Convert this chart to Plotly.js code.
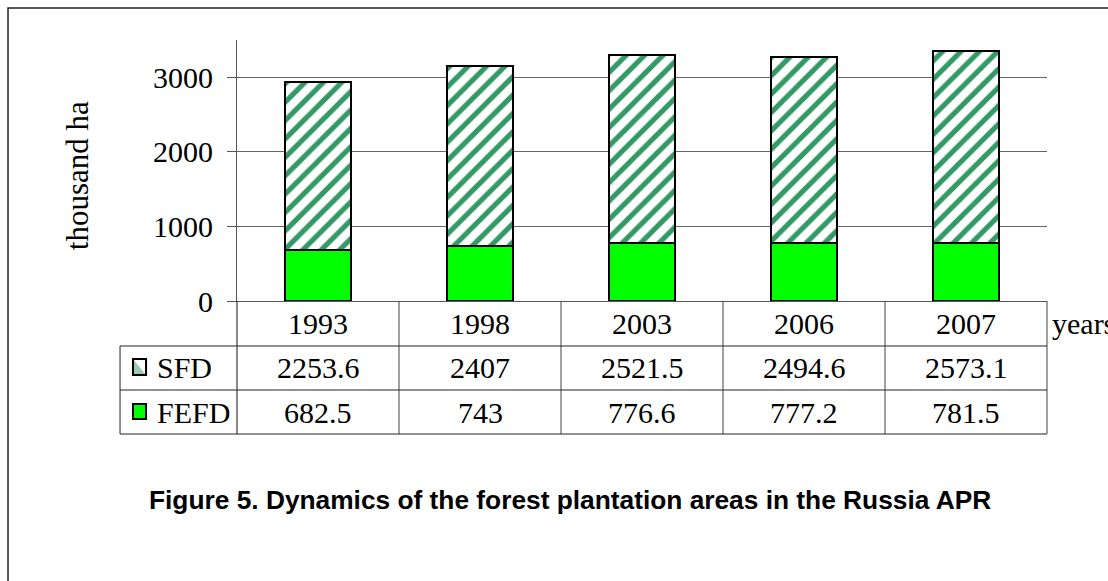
<!DOCTYPE html>
<html>
<head>
<meta charset="utf-8">
<script src="https://cdn.plot.ly/plotly-3.0.1.min.js"></script>
<style>html,body{margin:0;padding:0;background:#fff;}#chart{width:1108px;height:581px;}</style>
</head>
<body>
<div id="chart"></div>
<script>
// ---- data ----
var years = ['1993', '1998', '2003', '2006', '2007'];
var sfd = [2253.6, 2407, 2521.5, 2494.6, 2573.1];
var fefd = [682.5, 743, 776.6, 777.2, 781.5];
var sfdLabels = ['2253.6', '2407', '2521.5', '2494.6', '2573.1'];
var fefdLabels = ['682.5', '743', '776.6', '777.2', '781.5'];
var seriesNames = ['SFD', 'FEFD'];
var yTicks = [0, 1000, 2000, 3000];

var serif = 'Liberation Serif, Times New Roman, serif';
var fs = 30;

var traces = [
  {
    type: 'bar', x: years, y: fefd, name: seriesNames[1], width: 0.41,
    marker: {color: '#00ff00', line: {color: '#000', width: 2}},
    hoverinfo: 'skip'
  },
  {
    type: 'bar', x: years, y: sfd, name: seriesNames[0], width: 0.41,
    marker: {color: '#ffffff', line: {color: '#000', width: 2},
      pattern: {shape: '/', fgcolor: '#339966', bgcolor: '#ffffff', size: 13, solidity: 0.4}},
    hoverinfo: 'skip'
  }
];

// table geometry (paper units)
var rowTop = [0, -0.1724, -0.341];
var rowBot = -0.5096;
var leftColX = -0.1444;
var rowCenter = [-0.0862, -0.2567, -0.4253];

var shapes = [];
var lineCol = '#444';
for (var k = 0; k <= years.length; k++) {
  shapes.push({type: 'line', xref: 'paper', yref: 'paper', x0: k / years.length, x1: k / years.length,
    y0: 0, y1: rowBot, line: {color: k === 0 ? '#111' : lineCol, width: 1}});
}
[rowTop[1], rowTop[2], rowBot].forEach(function (yy) {
  shapes.push({type: 'line', xref: 'paper', yref: 'paper', x0: leftColX, x1: 1, y0: yy, y1: yy,
    line: {color: '#222', width: 1}});
});
shapes.push({type: 'line', xref: 'paper', yref: 'paper', x0: leftColX, x1: leftColX, y0: rowTop[1], y1: rowBot,
  line: {color: '#222', width: 1}});
// legend keys
var kx0 = -0.1284, kx1 = -0.1123;
var k1y0 = -0.2835, k1y1 = -0.2222;
var k2y0 = -0.4521, k2y1 = -0.3946;
shapes.push({type: 'rect', xref: 'paper', yref: 'paper', x0: kx0, x1: kx1, y0: k1y0, y1: k1y1,
  fillcolor: '#ffffff', line: {color: '#000', width: 2}});
shapes.push({type: 'path', xref: 'paper', yref: 'paper',
  path: 'M' + kx0 + ',' + k1y0 + ' L' + kx1 + ',' + k1y0 + ' L' + kx0 + ',' + k1y1 + ' Z',
  fillcolor: 'rgba(51,153,102,0.5)', line: {width: 0}});
shapes.push({type: 'rect', xref: 'paper', yref: 'paper', x0: kx0, x1: kx1, y0: k1y0, y1: k1y1,
  fillcolor: 'rgba(0,0,0,0)', line: {color: '#000', width: 2}});
shapes.push({type: 'rect', xref: 'paper', yref: 'paper', x0: kx0, x1: kx1, y0: k2y0, y1: k2y1,
  fillcolor: '#00ff00', line: {color: '#000', width: 2}});
// outer frame
shapes.push({type: 'rect', xref: 'paper', yref: 'paper', x0: -0.2827, x1: 1.3, y0: -1.3, y1: 1.1226,
  fillcolor: 'rgba(0,0,0,0)', line: {color: '#222', width: 1.5}, layer: 'below'});

var annotations = [];
var tf = {family: serif, size: fs, color: '#000'};
years.forEach(function (yr, i) {
  annotations.push({xref: 'x', yref: 'paper', x: i, y: rowCenter[0], text: yr, showarrow: false, font: tf, yanchor: 'middle'});
  annotations.push({xref: 'x', yref: 'paper', x: i, y: rowCenter[1], text: sfdLabels[i], showarrow: false, font: tf, yanchor: 'middle'});
  annotations.push({xref: 'x', yref: 'paper', x: i, y: rowCenter[2], text: fefdLabels[i], showarrow: false, font: tf, yanchor: 'middle'});
});
annotations.push({xref: 'paper', yref: 'paper', x: -0.1012, y: rowCenter[1], xanchor: 'left', yanchor: 'middle',
  text: seriesNames[0], showarrow: false, font: tf});
annotations.push({xref: 'paper', yref: 'paper', x: -0.1012, y: rowCenter[2], xanchor: 'left', yanchor: 'middle',
  text: seriesNames[1], showarrow: false, font: tf});
annotations.push({xref: 'paper', yref: 'paper', x: 1.0037, y: rowCenter[0], xanchor: 'left', yanchor: 'middle',
  text: 'years', showarrow: false, font: tf});
annotations.push({xref: 'paper', yref: 'paper', x: -0.196, y: 0.479, textangle: -90, xanchor: 'center', yanchor: 'middle',
  text: 'thousand ha', showarrow: false, font: {family: serif, size: 31, color: '#000'}});
annotations.push({xref: 'paper', yref: 'paper', x: 0.411, y: -0.7625, xanchor: 'center', yanchor: 'middle',
  text: '<b>Figure 5. Dynamics of the forest plantation areas in the Russia APR</b>', showarrow: false,
  font: {family: 'Liberation Sans, Arial, sans-serif', size: 26.3, color: '#000'}});

var layout = {
  width: 1108, height: 581,
  margin: {l: 237, r: 61, t: 40, b: 280, pad: 0},
  paper_bgcolor: '#fff', plot_bgcolor: '#fff',
  barmode: 'stack',
  showlegend: false,
  xaxis: {
    type: 'category', range: [-0.5, 4.5], showticklabels: false, ticks: '',
    showgrid: false, showline: true, linecolor: '#555', linewidth: 1, zeroline: false, fixedrange: true
  },
  yaxis: {
    range: [0, 3500], tickvals: yTicks, ticktext: yTicks.map(String),
    ticks: 'outside', ticklen: 9, tickcolor: '#555', tickwidth: 1,
    showgrid: true, gridcolor: '#666', gridwidth: 1,
    showline: true, linecolor: '#555', linewidth: 1, zeroline: false,
    tickfont: {family: serif, size: fs, color: '#000'}, ticklabelstandoff: 8, fixedrange: true
  },
  shapes: shapes,
  annotations: annotations
};

Plotly.newPlot('chart', traces, layout, {displayModeBar: false, staticPlot: true});
</script>
</body>
</html>
